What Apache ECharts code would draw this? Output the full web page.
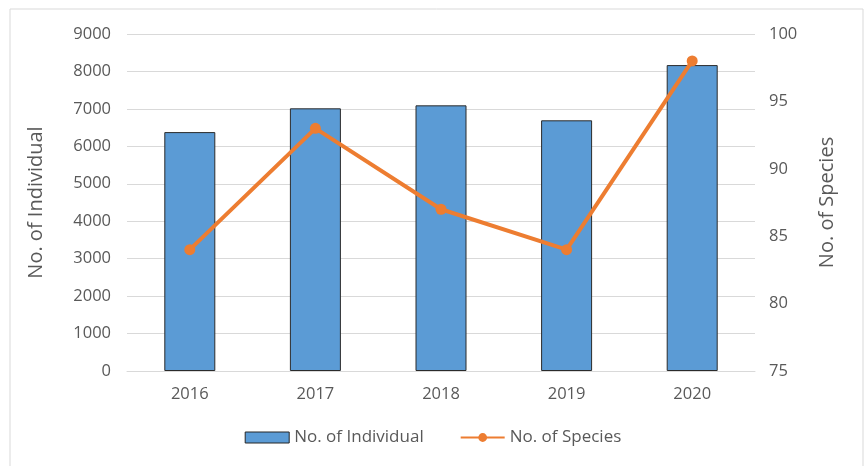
<!DOCTYPE html>
<html><head><meta charset="utf-8">
<script src="https://cdn.jsdelivr.net/npm/echarts@6/dist/echarts.min.js"></script>
<style>html,body{margin:0;padding:0;background:#fff}#c{width:866px;height:466px}</style>
</head><body><div id="c"></div>
<script>
const years = ['2016','2017','2018','2019','2020'];
const individuals = [6380, 7015, 7095, 6695, 8170];
const species = [84, 93, 87, 84, 98];
const leftTicks = [0, 9000, 1000];
const rightTicks = [75, 100, 5];

const txt = '#595959';
const font = '"Open Sans", "Noto Sans", sans-serif';
const chart = echarts.init(document.getElementById('c'), null, {renderer: 'canvas'});
chart.setOption({
  backgroundColor: '#fff',
  animation: false,
  textStyle: {fontFamily: font},
  graphic: [{type: 'rect', shape: {x: 10, y: 9, width: 853, height: 470},
    style: {fill: 'none', stroke: '#d9d9d9', lineWidth: 1}, z: -1}],
  grid: {left: 127, right: 111, top: 34, bottom: 95},
  legend: {
    bottom: 15, left: 'center', itemGap: 36, itemWidth: 44, itemHeight: 11,
    textStyle: {color: txt, fontSize: 17, fontFamily: font},
    data: [
      {name: 'No. of Individual', icon: 'rect', itemStyle: {color: '#5B9BD5', borderColor: '#262626', borderWidth: 1}},
      {name: 'No. of Species'}
    ]
  },
  xAxis: {
    type: 'category', data: years,
    axisLine: {lineStyle: {color: '#d9d9d9'}},
    axisTick: {show: false},
    axisLabel: {color: txt, fontSize: 16.5, margin: 15}
  },
  yAxis: [{
    type: 'value', min: leftTicks[0], max: leftTicks[1], interval: leftTicks[2],
    name: 'No. of Individual', nameLocation: 'middle', nameGap: 81, nameRotate: 90,
    nameTextStyle: {color: txt, fontSize: 20},
    axisLine: {show: false}, axisTick: {show: false},
    axisLabel: {color: txt, fontSize: 16.5, margin: 16, formatter: v => String(v)},
    splitLine: {lineStyle: {color: '#d9d9d9'}}
  }, {
    type: 'value', min: rightTicks[0], max: rightTicks[1], interval: rightTicks[2],
    name: 'No. of Species', nameLocation: 'middle', nameGap: 62, nameRotate: 90,
    nameTextStyle: {color: txt, fontSize: 20},
    axisLine: {show: false}, axisTick: {show: false},
    axisLabel: {color: txt, fontSize: 16.5, margin: 14, formatter: v => String(v)},
    splitLine: {show: false}
  }],
  series: [{
    name: 'No. of Individual', type: 'bar', data: individuals, barWidth: 51,
    itemStyle: {color: '#5B9BD5', borderColor: '#2b2b2b', borderWidth: 1}
  }, {
    name: 'No. of Species', type: 'line', yAxisIndex: 1, data: species,
    symbol: 'circle', symbolSize: 11,
    lineStyle: {color: '#ED7D31', width: 4},
    itemStyle: {color: '#ED7D31'}
  }]
});
</script></body></html>
